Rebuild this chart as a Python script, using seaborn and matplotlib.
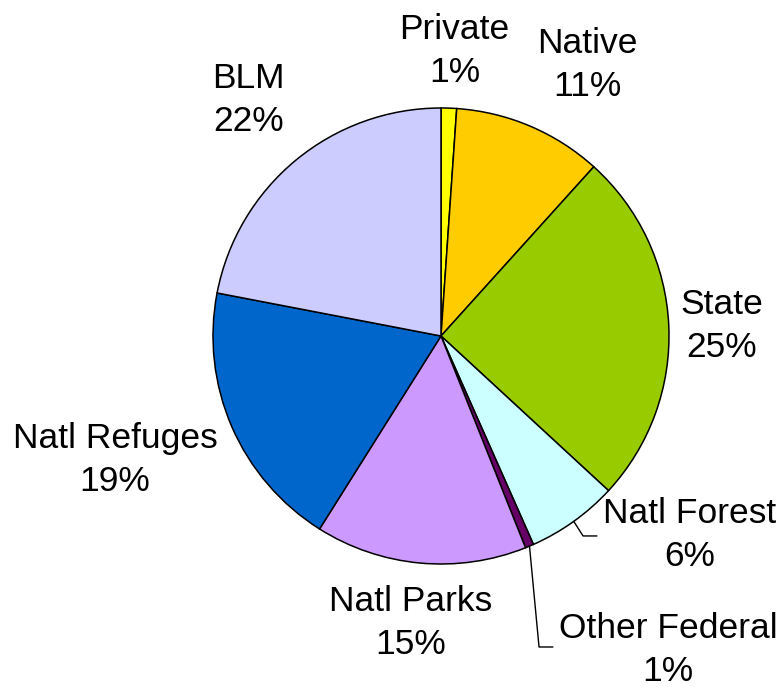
import numpy as np
import matplotlib
matplotlib.use("Agg")
import matplotlib.pyplot as plt
import seaborn as sns

sns.set_style("white")
plt.rcParams["font.family"] = ["Liberation Sans", "DejaVu Sans"]

# Dados (porcentagem de terras por proprietário)
categorias = ["Private", "Native", "State", "Natl Forest", "Other Federal",
              "Natl Parks", "Natl Refuges", "BLM"]
valores = [1.1, 10.6, 25.2, 6.5, 0.6, 15.0, 19.1, 22.0]
cores = ["#FFFF00", "#FFCC00", "#99CC00", "#CCFFFF", "#660066",
         "#CC99FF", "#0066CC", "#CCCCFF"]

# Posições dos rótulos (em unidades do raio)
pos_rotulos = [(0.06, 1.25), (0.64, 1.19), (1.232, 0.044), (1.092, -0.873),
               (0.996, -1.377), (-0.132, -1.259), (-1.43, -0.544), (-0.846, 1.035)]

fig = plt.figure(figsize=(7.84, 6.87), dpi=100)
cx, cy, r = 441, 336, 228
ax = fig.add_axes([(cx - r) / 784, (687 - cy - r) / 687, 2 * r / 784, 2 * r / 687])

wedges, _ = ax.pie(valores, colors=cores, startangle=90, counterclock=False,
                   wedgeprops=dict(edgecolor="black", linewidth=1.1))
ax.set_xlim(-1, 1)
ax.set_ylim(-1, 1)
ax.set_aspect("equal")
ax.axis("off")

total = sum(valores)
for cat, v, (x, y) in zip(categorias, valores, pos_rotulos):
    ax.text(x, y, f"{cat}\n{v / total * 100:.0f}%", ha="center", va="center",
            fontsize=25.5, linespacing=1.38, color="black", clip_on=False)

# Linhas de chamada para as fatias pequenas
cotovelos = {"Natl Forest": [(0.623, -0.877), (0.684, -0.877)],
             "Other Federal": [(0.430, -1.364), (0.491, -1.364)]}
for w, cat in zip(wedges, categorias):
    if cat in cotovelos:
        ang = np.deg2rad((w.theta1 + w.theta2) / 2)
        xs = [np.cos(ang)] + [p[0] for p in cotovelos[cat]]
        ys = [np.sin(ang)] + [p[1] for p in cotovelos[cat]]
        ax.plot(xs, ys, color="black", linewidth=1.0, clip_on=False)

fig.savefig("out.png", dpi=100)
